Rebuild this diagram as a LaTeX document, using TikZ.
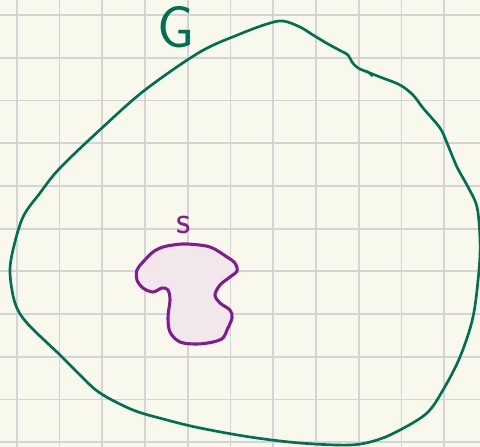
\documentclass[tikz,border=0pt]{standalone}
\usepackage{xcolor}
\usepackage{tikz}
\usetikzlibrary{positioning}
\definecolor{paper}{RGB}{249,248,237}
\definecolor{gridgray}{RGB}{212,212,212}
\definecolor{setgreen}{RGB}{0,112,82}
\definecolor{subpurple}{RGB}{128,30,145}
\definecolor{subfill}{RGB}{242,232,236}

\begin{document}
\begin{tikzpicture}[
  x=0.025cm, y=-0.025cm,
  gridline/.style={draw=gridgray, line width=1.3pt},
  bigset/.style={draw=setgreen, line width=1.9pt, line join=round, line cap=round},
  subset/.style={draw=subpurple, fill=subfill, line width=2.2pt, line join=round, line cap=round},
  setlabel/.style={font=\sffamily\fontsize{42}{42}\selectfont, text=setgreen, inner sep=0pt},
  sublabel/.style={font=\sffamily\fontsize{28}{28}\selectfont, text=subpurple, inner sep=0pt}
]

% === Paper and grid ==========================================================
\fill[paper] (0,0) rectangle (480,447);
\useasboundingbox (0,0) rectangle (480,447);
\foreach \k in {0,...,10} {
  \draw[gridline] ({16.7+42.75*\k},0) -- ({16.7+42.75*\k},447);
  \draw[gridline] (0,{15+42.73*\k}) -- (480,{15+42.73*\k});
}

% === Set G ===================================================================
\draw[bigset] plot[smooth cycle, tension=0.55] coordinates {
  (283,21) (300,27) (313,35) (328,44) (341,51) (348,55) (352,62) (358,68)
  (370,73) (380,77) (400,85) (413,95) (423,108) (440,128) (447,143)
  (457,167) (468,187) (477,207) (480,240) (479,270) (473,317) (460,357)
  (443,390) (427,413) (400,430) (377,440) (350,445) (300,443) (250,437)
  (200,428) (167,420) (133,410) (100,393) (80,375) (60,355) (27,323)
  (15,303) (10,273) (13,250) (23,217) (40,193) (60,168) (103,127)
  (145,90) (200,52) (240,34) (267,24)};
\draw[bigset, line width=1.5pt] (367,71) -- (372,76);
\node[setlabel] (G) at (176,27) {G};

% === Subset s ================================================================
\draw[subset] plot[smooth cycle, tension=0.55] coordinates {
  (163,247) (173,245) (187,244) (210,247) (227,257) (235,263) (237,271)
  (230,277) (220,285) (215,295) (220,303) (230,310) (232,318) (227,330)
  (223,338) (213,342) (197,344) (180,342) (170,332) (168,317) (170,300)
  (168,290) (162,288) (153,292) (143,288) (137,280) (137,270) (143,262)
  (153,252)};
\node[sublabel] (S) at (184,225) {s};

\end{tikzpicture}
\end{document}
